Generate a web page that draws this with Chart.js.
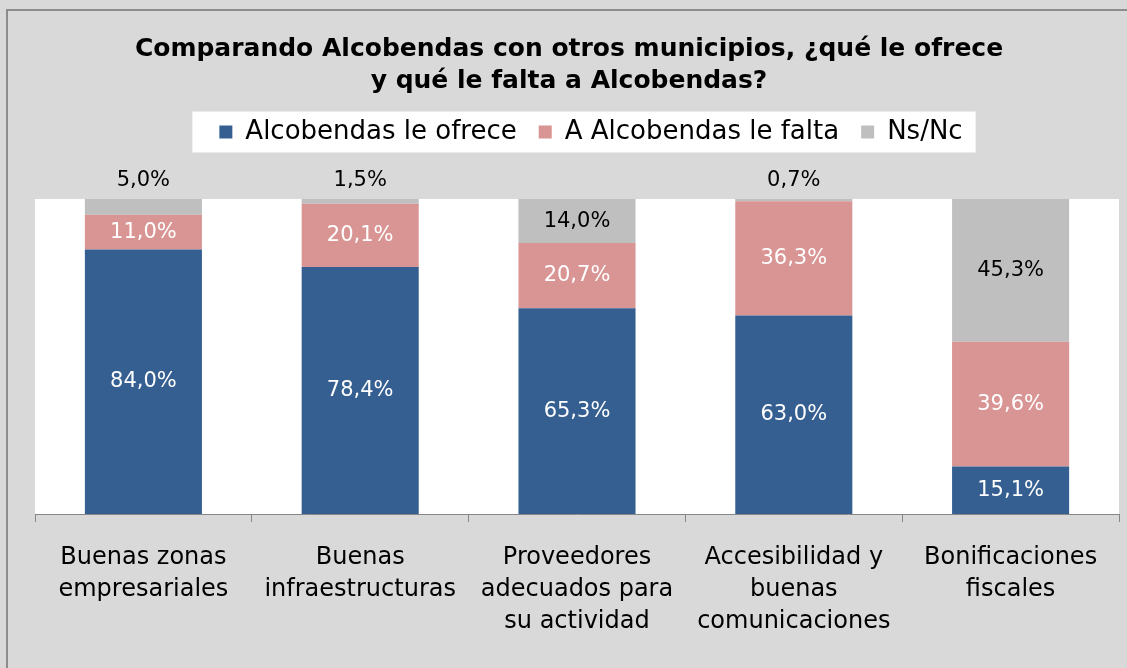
<!DOCTYPE html>
<html>
<head>
<meta charset="utf-8">
<script src="https://cdn.jsdelivr.net/npm/chart.js@4"></script>
<style>
  html, body { margin: 0; padding: 0; background: #d9d9d9; }
  #wrap { width: 1127px; height: 668px; }
</style>
</head>
<body>
<div id="wrap"><canvas id="c" width="1127" height="668"></canvas></div>
<script>
const titleLines = ['Comparando Alcobendas con otros municipios, ¿qué le ofrece', 'y qué le falta a Alcobendas?'];
const categories = [
  ['Buenas zonas', 'empresariales'],
  ['Buenas', 'infraestructuras'],
  ['Proveedores', 'adecuados para', 'su actividad'],
  ['Accesibilidad y', 'buenas', 'comunicaciones'],
  ['Bonificaciones', 'fiscales']
];
const seriesNames = ['Alcobendas le ofrece', 'A Alcobendas le falta', 'Ns/Nc'];
const ofrece = [84.0, 78.4, 65.3, 63.0, 15.1];
const falta = [11.0, 20.1, 20.7, 36.3, 39.6];
const nsnc = [5.0, 1.5, 14.0, 0.7, 45.3];

const FONT = "'DejaVu Sans', sans-serif";
const LEGEND_SHIFT = 14;
const TITLE_SHIFT = -8;

const bgPlugin = {
  id: 'bgPlugin',
  beforeInit(chart) {
    const lg = chart.legend;
    if (lg) {
      const origFit = lg.fit;
      lg.fit = function () {
        origFit.call(this);
        this.height += 44;
      };
      const origDraw = lg.draw;
      lg.draw = function () {
        const c = this.ctx;
        c.save();
        c.translate(LEGEND_SHIFT, 0);
        origDraw.apply(this, arguments);
        c.restore();
      };
    }
    const tb = chart.titleBlock;
    if (tb) {
      const origTDraw = tb.draw;
      tb.draw = function () {
        const c = this.ctx;
        c.save();
        c.translate(TITLE_SHIFT, 0);
        origTDraw.apply(this, arguments);
        c.restore();
      };
    }
  },
  beforeDraw(chart) {
    const ctx = chart.ctx;
    const a = chart.chartArea;
    ctx.save();
    ctx.fillStyle = '#d9d9d9';
    ctx.fillRect(0, 0, chart.width, chart.height);
    ctx.strokeStyle = '#8c8c8c';
    ctx.lineWidth = 2;
    ctx.strokeRect(7, 10, chart.width + 20, chart.height + 20);
    ctx.fillStyle = '#ffffff';
    ctx.fillRect(a.left, a.top, a.right - a.left, a.bottom - a.top);
    const hb = chart.legend && chart.legend.legendHitBoxes;
    if (hb && hb.length) {
      const l = hb[0].left - 27 + LEGEND_SHIFT;
      const r = hb[hb.length - 1].left + hb[hb.length - 1].width + 13 + LEGEND_SHIFT;
      const cy = hb[0].top + hb[0].height / 2;
      ctx.fillRect(l, cy - 20.5, r - l, 41);
    }
    ctx.restore();
  }
};

const labelPlugin = {
  id: 'labelPlugin',
  afterDatasetsDraw(chart) {
    const ctx = chart.ctx;
    ctx.save();
    ctx.font = "21px " + FONT;
    ctx.textAlign = 'center';
    ctx.textBaseline = 'middle';
    chart.data.datasets.forEach((ds, di) => {
      const meta = chart.getDatasetMeta(di);
      meta.data.forEach((bar, i) => {
        const v = ds.data[i];
        const txt = v.toFixed(1).replace('.', ',') + '%';
        let y;
        if (v <= 5) {
          y = chart.chartArea.top - 18;
          ctx.fillStyle = '#000000';
        } else {
          y = (bar.y + bar.base) / 2;
          ctx.fillStyle = di === 2 ? '#000000' : '#ffffff';
        }
        ctx.fillText(txt, bar.x, y);
      });
    });
    ctx.restore();
  }
};

new Chart(document.getElementById('c'), {
  type: 'bar',
  data: {
    labels: categories,
    datasets: [
      { label: seriesNames[0], data: ofrece, backgroundColor: '#365f91' },
      { label: seriesNames[1], data: falta, backgroundColor: '#d99594' },
      { label: seriesNames[2], data: nsnc, backgroundColor: '#bfbfbf' }
    ]
  },
  options: {
    responsive: false,
    animation: false,
    devicePixelRatio: 1,
    datasets: { bar: { barPercentage: 0.54, categoryPercentage: 1, borderWidth: 0 } },
    layout: { padding: { left: 35, right: 8, top: 0, bottom: 10 } },
    plugins: {
      title: {
        display: true,
        text: titleLines,
        color: '#000000',
        font: { family: FONT, size: 25, weight: 'bold', lineHeight: 32 / 25 },
        padding: { top: 33, bottom: 0 }
      },
      legend: {
        display: true,
        position: 'top',
        labels: {
          color: '#000000',
          font: { family: FONT, size: 26 },
          boxWidth: 13,
          boxHeight: 13,
          padding: 22
        }
      },
      tooltip: { enabled: false }
    },
    scales: {
      x: {
        stacked: true,
        grid: { offset: true, drawOnChartArea: false, drawTicks: true, tickLength: 8, color: '#868686' },
        border: { display: true, color: '#868686' },
        ticks: {
          color: '#000000',
          font: { family: FONT, size: 24, lineHeight: 32 / 24 },
          padding: 20,
          maxRotation: 0,
          autoSkip: false
        }
      },
      y: {
        stacked: true,
        display: false,
        min: 0,
        max: 100
      }
    }
  },
  plugins: [bgPlugin, labelPlugin]
});
</script>
</body>
</html>
